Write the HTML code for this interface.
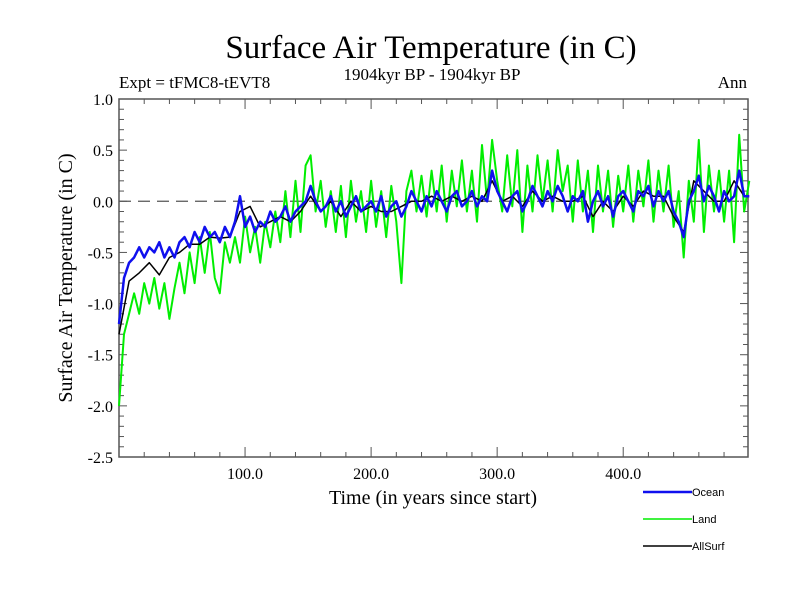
<!DOCTYPE html>
<html><head><meta charset="utf-8"><style>
body{margin:0;background:#fff;width:800px;height:600px;overflow:hidden}
svg text{font-family:"Liberation Serif",serif;fill:#000}
</style></head><body>
<svg id="chart" width="800" height="600">
<text x="431" y="58" font-size="33" text-anchor="middle">Surface Air Temperature (in C)</text>
<text x="119" y="88" font-size="17">Expt = tFMC8-tEVT8</text>
<text x="432" y="80" font-size="17" text-anchor="middle">1904kyr BP - 1904kyr BP</text>
<text x="747" y="88" font-size="17" text-anchor="end">Ann</text>
<text transform="translate(72,278) rotate(-90)" font-size="20" text-anchor="middle">Surface Air Temperature (in C)</text>
<text x="433" y="504" font-size="20" text-anchor="middle">Time (in years since start)</text>
<g id="axes"></g>
<g id="series"></g>
<g id="legend"></g>
</svg>
<script>
const years = [];
for (let i = 0; i <= 125; i++) years.push(i * 4);
const ocean = [-1.2,-0.75,-0.6,-0.55,-0.45,-0.55,-0.45,-0.5,-0.4,-0.55,-0.45,-0.55,-0.4,-0.35,-0.45,-0.3,-0.4,-0.25,-0.35,-0.3,-0.4,-0.25,-0.35,-0.2,0.05,-0.25,-0.15,-0.3,-0.2,-0.25,-0.1,-0.2,-0.15,-0.05,-0.2,-0.1,-0.05,0.0,0.15,0.0,-0.1,-0.05,0.05,-0.1,0.0,-0.15,-0.05,0.05,-0.1,-0.05,0.0,-0.1,0.05,-0.15,-0.05,0.0,-0.15,-0.05,0.1,0.0,-0.1,0.05,-0.05,0.1,0.0,-0.1,0.05,0.1,-0.05,0.0,0.1,-0.05,0.05,0.0,0.3,0.1,0.0,-0.1,0.05,0.1,-0.1,0.0,0.15,0.05,-0.05,0.1,0.0,0.15,0.05,-0.1,0.05,0.0,0.1,-0.2,0.0,0.1,-0.05,0.05,-0.15,0.05,0.1,0.0,-0.1,0.1,0.05,0.15,-0.05,0.1,0.0,0.1,-0.1,-0.2,-0.35,0.0,0.1,0.25,0.0,0.15,0.05,-0.1,0.1,0.0,0.05,0.3,0.05,0.05];
const land = [-2.0,-1.3,-1.1,-0.9,-1.1,-0.8,-1.0,-0.75,-1.05,-0.8,-1.15,-0.85,-0.6,-0.9,-0.5,-0.8,-0.35,-0.7,-0.3,-0.75,-0.9,-0.4,-0.6,-0.35,-0.6,-0.15,-0.5,-0.25,-0.6,-0.2,-0.45,-0.1,-0.4,0.1,-0.35,0.2,-0.3,0.35,0.45,-0.1,0.2,-0.25,0.1,-0.3,0.15,-0.35,0.2,-0.2,0.1,-0.3,0.2,-0.25,0.1,-0.35,0.15,-0.2,-0.8,0.1,0.3,-0.1,0.25,-0.15,0.3,-0.1,0.35,-0.2,0.3,-0.05,0.4,-0.1,0.3,-0.2,0.55,0.0,0.6,0.2,-0.1,0.45,-0.05,0.5,-0.3,0.35,-0.1,0.45,0.0,0.4,-0.1,0.5,0.1,0.35,-0.2,0.4,-0.1,0.3,-0.3,0.35,-0.1,0.3,-0.25,0.25,-0.1,0.35,-0.2,0.3,-0.05,0.4,-0.2,0.3,-0.1,0.35,-0.25,0.1,-0.55,0.2,-0.2,0.6,-0.3,0.35,-0.1,0.3,-0.2,0.3,-0.4,0.65,-0.1,0.2];
const allYears = [];
for (let i = 0; i <= 62; i++) allYears.push(i * 8);
const allSurf = [-1.3,-0.78,-0.7,-0.6,-0.72,-0.55,-0.5,-0.42,-0.42,-0.35,-0.36,-0.35,-0.1,-0.05,-0.25,-0.2,-0.15,-0.2,-0.1,0.05,-0.1,0.0,-0.15,0.0,-0.1,-0.05,-0.1,-0.1,-0.05,0.0,0.0,0.05,0.0,0.05,0.0,0.05,0.0,0.2,0.0,0.05,-0.05,0.1,0.0,0.05,0.0,0.0,0.05,-0.15,0.0,-0.1,0.05,-0.05,0.1,0.05,0.05,-0.15,-0.3,0.2,0.1,0.0,0.0,0.2,0.05];
const yTicks = [1.0,0.5,0.0,-0.5,-1.0,-1.5,-2.0,-2.5];
const xTicks = [100,200,300,400];

const X0=119,X1=748,Y0=99,Y1=457;
const xs = v => X0 + (v-0)/(499-0)*(X1-X0);
const ys = v => Y0 + (1.0-v)/(3.5)*(Y1-Y0);
const NS='http://www.w3.org/2000/svg';
function mk(tag, attrs, parent){const e=document.createElementNS(NS,tag);for(const k in attrs)e.setAttribute(k,attrs[k]);parent.appendChild(e);return e;}
const axes=document.getElementById('axes');
const frame=mk('rect',{x:X0,y:Y0,width:X1-X0,height:Y1-Y0,fill:'none',stroke:'#555','stroke-width':1.5},axes);


const zl=mk('line',{x1:X0,x2:X1,y1:ys(0),y2:ys(0),stroke:'#555','stroke-width':1.2,'stroke-dasharray':'12,7'},axes);


for(let v=-2.5;v<=1.0001;v+=0.1){const y=ys(v);const major=Math.abs(v*2-Math.round(v*2))<1e-6;const L=major?8:5;
 mk('line',{x1:X0,x2:X0+L,y1:y,y2:y,stroke:'#555'},axes);mk('line',{x1:X1,x2:X1-L,y1:y,y2:y,stroke:'#555'},axes);}
for(let v=20;v<499;v+=20){const x=xs(v);const major=v%100===0;const L=major?10:5;
 mk('line',{x1:x,x2:x,y1:Y1,y2:Y1-L,stroke:'#555'},axes);mk('line',{x1:x,x2:x,y1:Y0,y2:Y0+L,stroke:'#555'},axes);}
yTicks.forEach(v=>{const t=mk('text',{x:X0-6,y:ys(v)+6,'font-size':16,'text-anchor':'end'},axes);t.textContent=v.toFixed(1);
 
 });
xTicks.forEach(v=>{const t=mk('text',{x:xs(v),y:Y1+22,'font-size':16,'text-anchor':'middle'},axes);t.textContent=v.toFixed(1);
 
 });
const ser=document.getElementById('series');
function line(xsArr,vals,color,w,name){const d=vals.map((v,i)=>(i?'L':'M')+xs(xsArr[i]).toFixed(1)+','+ys(v).toFixed(1)).join('');
 const p=mk('path',{d:d,fill:'none',stroke:color,'stroke-width':w,'stroke-linejoin':'round'},ser);
 
 }
line(years,land,'#00ee00',2,'land-line');
line(allYears,allSurf,'#000',1.5,'allsurf-line');
line(years,ocean,'#1010ee',2.5,'ocean-line');
const lg=document.getElementById('legend');
[['Ocean','#1010ee',2.5,492],['Land','#00ee00',1.5,519],['AllSurf','#000',1.5,546]].forEach(e=>{
 const l=mk('line',{x1:643,x2:692,y1:e[3],y2:e[3],stroke:e[1],'stroke-width':e[2]},lg);
 
 
 const t=mk('text',{x:692,y:e[3]+4,'font-size':11,style:'font-family:"Liberation Sans",sans-serif'},lg);t.textContent=e[0];
 
 });
</script>
</body></html>
